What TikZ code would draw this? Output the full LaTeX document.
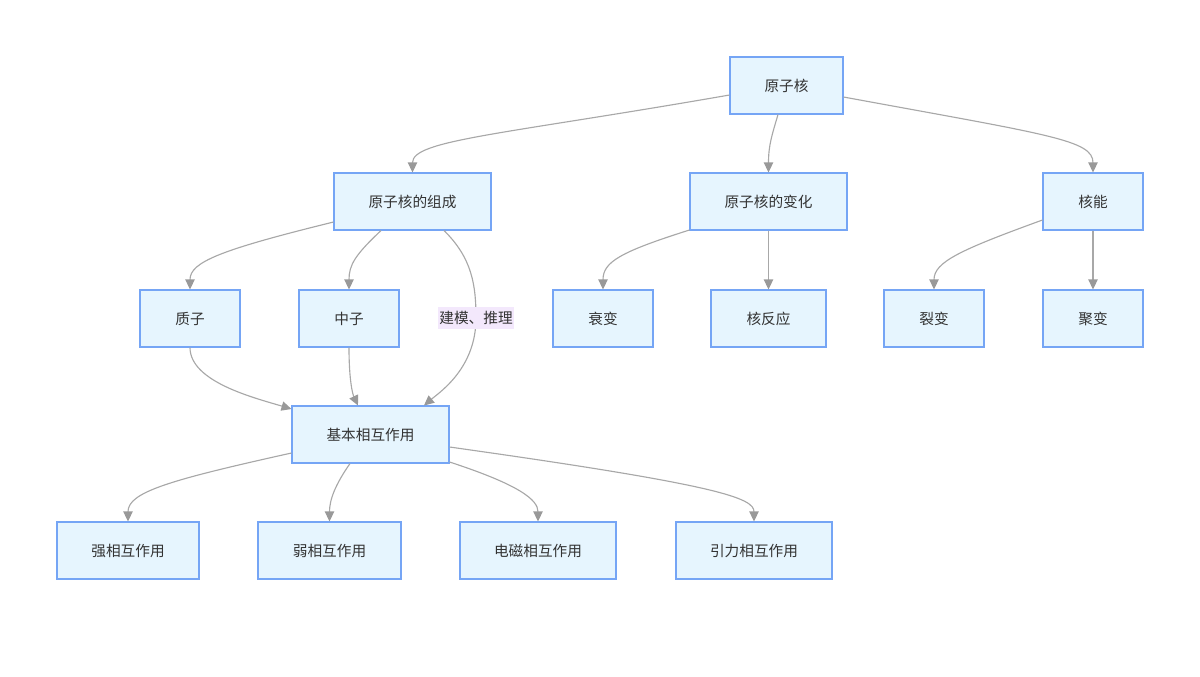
\documentclass[tikz,border=0pt]{standalone}
\usepackage{fontspec}
\setmainfont{Noto Sans CJK SC}
\usetikzlibrary{arrows.meta}
\definecolor{boxfill}{HTML}{E6F5FE}
\definecolor{boxdraw}{HTML}{75A5F5}
\definecolor{edgecol}{HTML}{A8A8A8}
\definecolor{tipcol}{HTML}{999999}
\definecolor{lblfill}{HTML}{F3E8FC}
\definecolor{txt}{HTML}{333333}
\tikzset{
  box/.style={draw=boxdraw, fill=boxfill, line width=0.8pt, minimum height=57*0.75pt, text=txt, font=\fontsize{11}{13}\selectfont, inner sep=0pt},
  edge/.style={draw=edgecol, line width=0.85pt, -{Triangle[length=7.5pt,width=7pt,fill=tipcol,color=tipcol]}},
  plain/.style={draw=edgecol, line width=0.85pt},
  lbl/.style={fill=lblfill, text=txt, font=\fontsize{11}{13}\selectfont, inner xsep=1pt, inner ysep=3.5pt}
}
\begin{document}
\begin{tikzpicture}[x=0.75pt,y=-0.75pt]
\useasboundingbox (0,0) rectangle (1200,676);
% nodes
\node[box, minimum width=113*0.75pt] (yzh) at (786.5,85.5) {原子核};
\node[box, minimum width=157*0.75pt] (zc) at (412.5,201.5) {原子核的组成};
\node[box, minimum width=157*0.75pt] (bh) at (768.5,201.5) {原子核的变化};
\node[box, minimum width=100*0.75pt] (hn) at (1093,201.5) {核能};
\node[box, minimum width=100*0.75pt] (zz) at (190,318.5) {质子};
\node[box, minimum width=100*0.75pt] (nz) at (349,318.5) {中子};
\node[box, minimum width=100*0.75pt] (sb) at (603,318.5) {衰变};
\node[box, minimum width=115*0.75pt] (hfy) at (768.5,318.5) {核反应};
\node[box, minimum width=100*0.75pt] (lb) at (934,318.5) {裂变};
\node[box, minimum width=100*0.75pt] (jub) at (1093,318.5) {聚变};
\node[box, minimum width=157*0.75pt] (jb) at (370.5,434.5) {基本相互作用};
\node[box, minimum width=142*0.75pt] (qx) at (128,550.5) {强相互作用};
\node[box, minimum width=143*0.75pt] (rx) at (329.5,550.5) {弱相互作用};
\node[box, minimum width=156*0.75pt] (dc) at (538,550.5) {电磁相互作用};
\node[box, minimum width=156*0.75pt] (yl) at (754,550.5) {引力相互作用};
% edges
\draw[edge] ([shift={(0,9.5)}]yzh.west) .. controls (500,135) and (412.5,140) .. (zc.north);
\draw[edge] ([shift={(-8.5,0)}]yzh.south) .. controls (772,135) and (768.5,145) .. (bh.north);
\draw[edge] ([shift={(0,11.5)}]yzh.east) .. controls (1050,135) and (1093,140) .. (hn.north);
\draw[edge] ([shift={(0,20.5)}]zc.west) .. controls (220,250) and (190,262) .. (zz.north);
\draw[edge] ([shift={(-31.5,0)}]zc.south) .. controls (355,255) and (349,265) .. (nz.north);
\draw[plain] ([shift={(31.5,0)}]zc.south) .. controls (472,258) and (476,285) .. (476,318) coordinate (lp);
\draw[edge] (lp) .. controls (476,368) and (440,392) .. ([shift={(53.5,0)}]jb.north);
\node[lbl] (lab) at (lp) {建模、推理};
\draw[edge] (zz.south) .. controls (190,382) and (255,398) .. ([shift={(0,-25.5)}]jb.west);
\draw[edge] (nz.south) .. controls (349,382) and (353,395) .. ([shift={(-12.5,0)}]jb.north);
\draw[edge] ([shift={(0,28.5)}]bh.west) .. controls (620,252) and (603,262) .. (sb.north);
\draw[edge] (bh.south) -- (hfy.north);
\draw[edge] ([shift={(0,18.5)}]hn.west) .. controls (960,250) and (934,262) .. (lb.north);
\draw[edge] (hn.south) -- (jub.north);
\draw[edge] ([shift={(0,18.5)}]jb.west) .. controls (170,480) and (128,492) .. (qx.north);
\draw[edge] ([shift={(-20.5,0)}]jb.south) .. controls (335,485) and (329.5,500) .. (rx.north);
\draw[edge] ([shift={(0,27.5)}]jb.east) .. controls (520,485) and (538,500) .. (dc.north);
\draw[edge] ([shift={(0,12.5)}]jb.east) .. controls (720,485) and (754,498) .. (yl.north);
\end{tikzpicture}
\end{document}
